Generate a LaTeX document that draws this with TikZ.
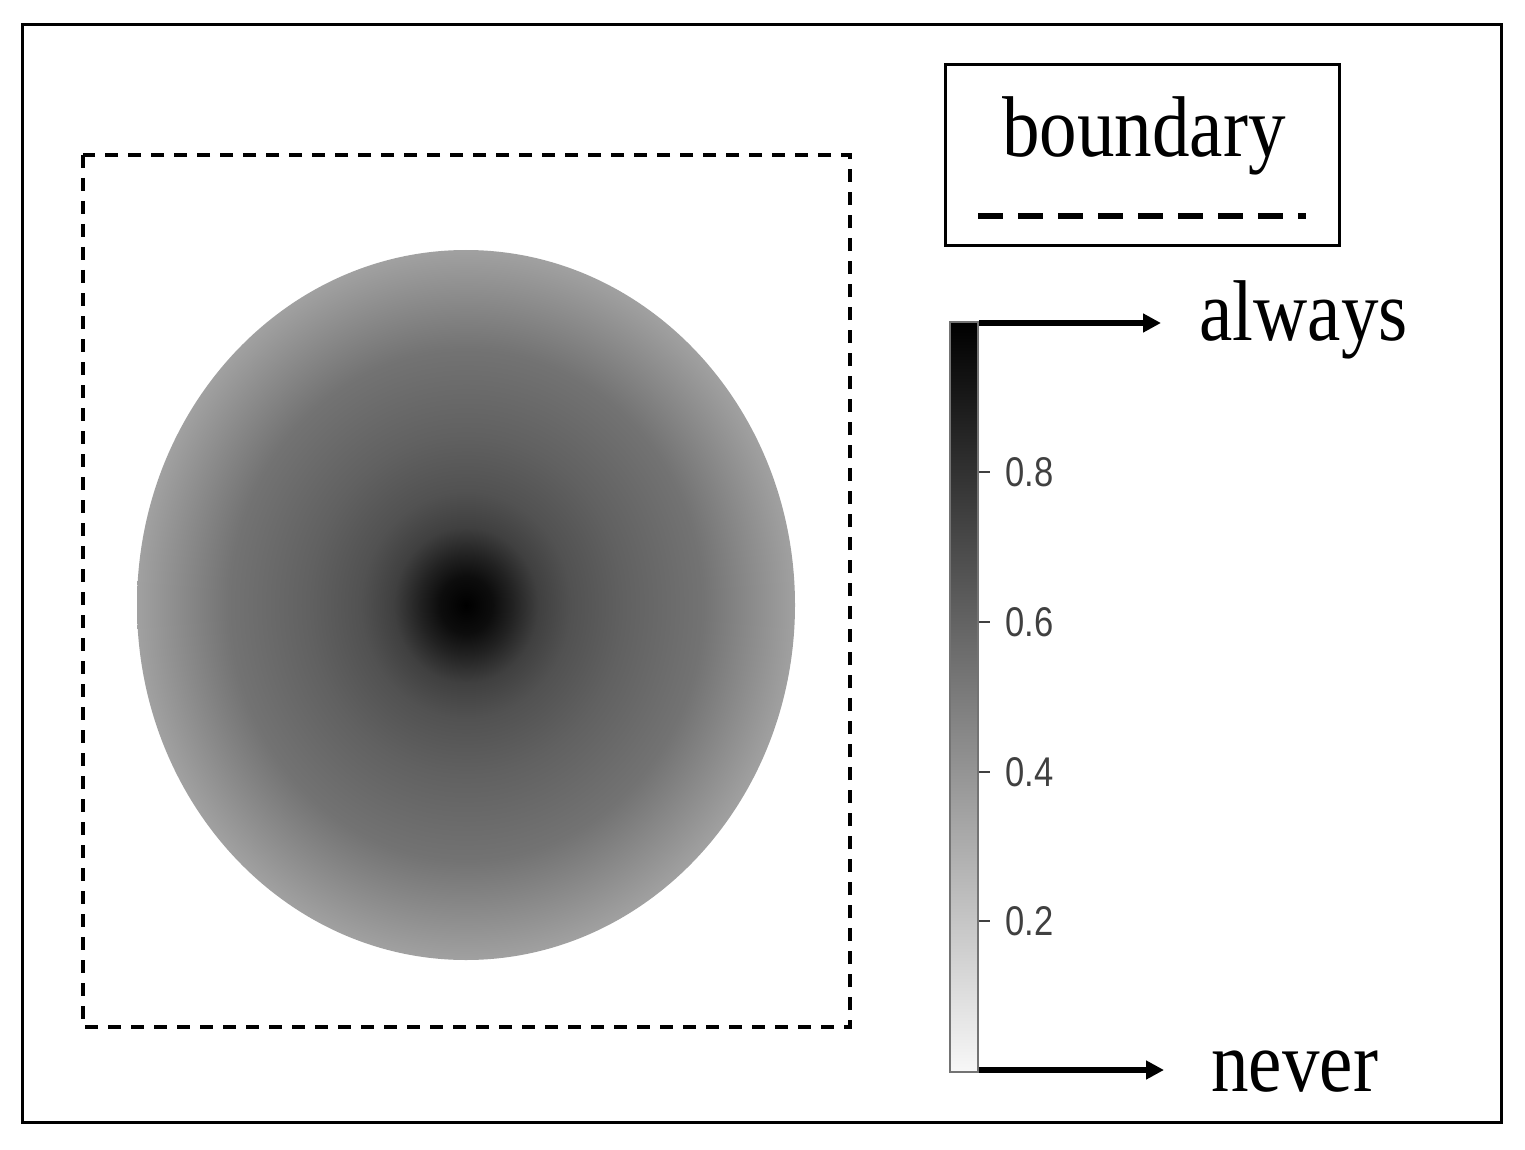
\documentclass[tikz,border=0pt]{standalone}
\usepackage{graphicx}
\usepackage{fontspec}
\setmainfont{Liberation Serif}
\newfontfamily\tickfont{Liberation Sans}
\usetikzlibrary{arrows.meta}
\definecolor{g05}{gray}{0.05}
\definecolor{g15}{gray}{0.13}
\definecolor{g28}{gray}{0.25}
\definecolor{g34}{gray}{0.32}
\definecolor{g40}{gray}{0.38}
\definecolor{g47}{gray}{0.45}
\definecolor{g63}{gray}{0.63}
\definecolor{tickgray}{gray}{0.25}
\definecolor{cbedge}{gray}{0.45}
\definecolor{cblow}{gray}{0.97}
\pgfdeclareradialshading{spot}{\pgfpoint{0bp}{0bp}}{color(0bp)=(black); color(2bp)=(g05); color(3.5bp)=(g15); color(5.5bp)=(g28); color(8bp)=(g34); color(12bp)=(g40); color(18bp)=(g47); color(25bp)=(g63); color(50bp)=(g63)}
\tikzset{
  framebox/.style={draw=black, line width=1.5pt},
  boundline/.style={draw=black, line width=1.6pt, dash pattern=on 6.5pt off 5pt},
  legendbox/.style={draw=black, line width=1.5pt, minimum width=197pt, minimum height=90.5pt, inner sep=0pt},
  legenddash/.style={draw=black, line width=2.6pt, dash pattern=on 12.5pt off 7.5pt},
  cbar/.style={draw=cbedge, line width=0.9pt, minimum width=14pt, minimum height=375pt, inner sep=0pt, top color=black, bottom color=cblow},
  tickmark/.style={draw=tickgray, line width=1pt},
  ticklabel/.style={text=tickgray, font=\tickfont\fontsize{17.3pt}{19pt}\selectfont, anchor=west, inner sep=0pt},
  biglabel/.style={font=\fontsize{37.5pt}{40pt}\selectfont, inner sep=0pt},
  arrowline/.style={draw=black, line width=2.6pt, -{Triangle[length=9pt,width=9pt]}}
}
\begin{document}
\begin{tikzpicture}[x=0.5pt,y=-0.5pt]
\useasboundingbox (0,0) rectangle (1525,1150);
% outer frame
\draw[framebox] (22,25) rectangle (1501,1122);
% boundary region
\draw[boundline] (83,155) rectangle (850,1027);
% shaded disc
\shade[shading=spot] (466,605) ellipse [x radius=329, y radius=355];
% legend
\node[legendbox] (legend) at (1142,155.5) {};
\node[biglabel, anchor=base west] (boundarytxt) at (1002,157) {\scalebox{1}[1.15]{boundary}};
\coordinate (ldA) at (978,216);
\coordinate (ldB) at (1306,216);
\draw[legenddash] (ldA) -- (ldB);
% colour bar
\node[cbar] (cb) at (964,697) {};
\foreach \yy/\lab/\nm in {472/0.8/ta,622/0.6/tb,772/0.4/tc,921/0.2/td}{
  \coordinate (\nm) at (990,\yy);
  \draw[tickmark] (cb.east |- \nm) -- (\nm);
  \node[ticklabel] (\nm l) at (1005,\yy) {\scalebox{1}[1.2]{\lab}};
}
% arrows and labels
\coordinate (tipA) at (1161,323);
\coordinate (tipN) at (1164,1070);
\draw[arrowline] (cb.east |- tipA) -- (tipA);
\draw[arrowline] (cb.east |- tipN) -- (tipN);
\node[biglabel, anchor=base west] (always) at (1199,340) {\scalebox{1}[1.15]{always}};
\node[biglabel, anchor=base west] (never) at (1211,1091) {\scalebox{1}[1.15]{never}};
\end{tikzpicture}
\end{document}
